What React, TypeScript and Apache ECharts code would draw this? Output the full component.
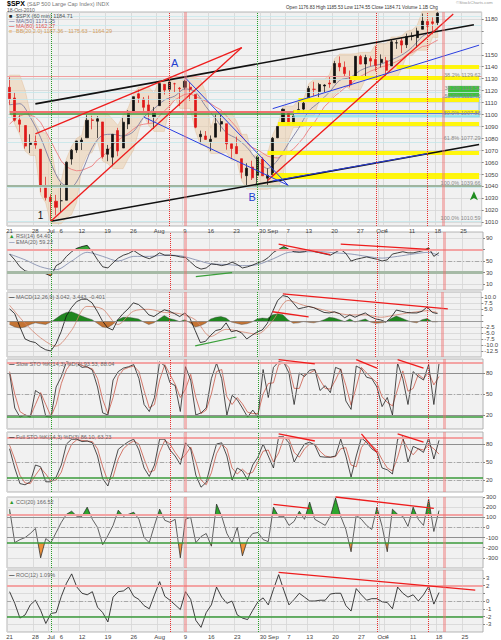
import React, { useEffect, useRef } from "react";
import * as echarts from "echarts";

// ---------- DATA ----------
const days = ["6/21","6/22","6/23","6/24","6/25","6/28","6/29","6/30","7/1","7/2","7/6","7/7","7/8","7/9","7/12","7/13","7/14","7/15","7/16","7/19","7/20","7/21","7/22","7/23","7/26","7/27","7/28","7/29","7/30","8/2","8/3","8/4","8/5","8/6","8/9","8/10","8/11","8/12","8/13","8/16","8/17","8/18","8/19","8/20","8/23","8/24","8/25","8/26","8/27","8/30","8/31","9/1","9/2","9/3","9/7","9/8","9/9","9/10","9/13","9/14","9/15","9/16","9/17","9/20","9/21","9/22","9/23","9/24","9/27","9/28","9/29","9/30","10/1","10/4","10/5","10/6","10/7","10/8","10/11","10/12","10/13","10/14","10/15","10/18","10/19","10/20","10/21","10/22","10/25","10/26","10/27","10/28"];
const tickDays = ["6/21","6/28","7/1","7/6","7/12","7/19","7/26","8/2","8/9","8/16","8/23","8/30","9/1","9/7","9/13","9/20","9/27","10/1","10/4","10/11","10/18","10/25"];
const tickLabels = ["21","28","Jul","6","12","19","26","Aug","9","16","23","30","Sep","7","13","20","27","Oct","4","11","18","25"];

const opens = [1122.8,1113.9,1095.6,1090.9,1075.1,1077.5,1071.1,1040.6,1031.1,1027.7,1028.1,1028.5,1062.9,1070.5,1077.2,1080.7,1095.6,1094.5,1093.9,1066.9,1064.5,1086.7,1072.1,1092.2,1102.9,1117.4,1112.8,1108.1,1098.4,1107.5,1125.3,1121.1,1125.8,1122.1,1122.8,1122.9,1116.9,1081.5,1082.2,1077.5,1081.2,1092.1,1092.4,1075.6,1073.4,1063.2,1049,1056.3,1049.3,1062.9,1046.9,1049.7,1080.7,1093.6,1102.6,1092.4,1101.2,1104.6,1113.4,1121.2,1119.4,1123.9,1126.4,1126.6,1142.8,1139.5,1131.1,1131.7,1148.6,1142.3,1146.8,1146,1143.5,1145,1140.7,1159.8,1161.6,1158.4,1165.3,1164.3,1171.3,1177.8,1177.5,1176.8];
const highs = [1131.2,1118.5,1099.6,1090.9,1083.6,1082.6,1071.1,1048.1,1033.6,1033,1042.5,1060.9,1071.3,1078.2,1080.8,1099.5,1099.1,1098.7,1093.9,1074.7,1083.9,1089,1097.5,1103.7,1115,1121,1114.7,1115.9,1106.4,1127.3,1125.4,1128.8,1126.6,1123.1,1129.2,1127.2,1116.9,1086.7,1086.3,1082.6,1100.1,1099.8,1092.4,1075.6,1081.6,1063.2,1059.4,1061.5,1065.2,1064.4,1055.1,1081.3,1090.1,1105.1,1102.6,1103.3,1110.3,1110.9,1123.9,1127.4,1126.5,1125.4,1131.5,1144.9,1148.6,1144.4,1136.8,1148.9,1149.9,1150,1148.6,1157.2,1150.3,1148.2,1162.8,1162.3,1163.9,1167.7,1168.7,1172.6,1184.4,1178.9,1181.2,1185.5];
const lows = [1108.2,1094.2,1085.3,1071.6,1067.9,1071.5,1035.2,1028.3,1010.9,1015.9,1018.4,1028.5,1058.2,1068.1,1070.5,1080.7,1087.7,1080.5,1063.3,1061.1,1056.9,1065.3,1072.1,1087.9,1101.3,1109.8,1103.1,1092.8,1088,1107.5,1116.8,1119.5,1118.8,1107.2,1120.9,1111.6,1088.6,1076.7,1079,1069.5,1081.2,1085.8,1070.7,1063.9,1067.1,1046.7,1039.8,1045.4,1039.7,1048.8,1040.9,1049.7,1080.4,1093.6,1091.2,1092.4,1101.2,1101.2,1113.4,1115.6,1114.6,1118.9,1122.4,1126.6,1136.2,1131.6,1122.8,1131.7,1142,1132.1,1140.3,1136.1,1139.4,1131.9,1140.7,1154.9,1151.4,1155.6,1162,1155.7,1171.3,1166.7,1167.1,1174.6];
const closes = [1113.2,1095.3,1092,1073.7,1076.8,1074.6,1041.2,1030.7,1027.4,1022.6,1028.1,1060.3,1070.3,1078,1078.8,1095.3,1095.2,1096.5,1064.9,1071.3,1083.5,1069.6,1093.7,1102.7,1115,1113.8,1106.1,1101.5,1101.6,1125.9,1120.5,1127.2,1125.8,1121.6,1127.8,1121.1,1089.5,1083.6,1079.3,1079.4,1092.5,1094.2,1075.6,1071.7,1067.4,1051.9,1055.3,1047.2,1064.6,1048.9,1049.3,1080.3,1090.1,1104.5,1091.8,1098.9,1104.2,1109.6,1121.9,1121.1,1125.1,1124.7,1125.6,1142.7,1139.8,1134.3,1124.8,1148.7,1142.2,1147.7,1144.7,1141.2,1146.2,1137,1160.8,1160,1158.1,1165.2,1165.3,1169.8,1178.1,1173.8,1176.2,1184.7];

const ma50 = [[0,1108.2],[2,1109.1],[4,1097.8],[6,1081],[8,1059.5],[10,1043],[12,1040],[14,1052.2],[16,1072.3],[18,1082.7],[20,1083.6],[22,1082.1],[24,1085.8],[26,1097.8],[28,1104.9],[30,1112.1],[32,1115.5],[34,1121.5],[36,1119.1],[38,1107],[40,1096.2],[42,1084.9],[44,1080],[46,1072.7],[48,1062],[50,1055],[52,1062.2],[54,1075.6],[56,1088.4],[58,1103],[60,1110.4],[62,1118.9],[64,1128.7],[66,1131],[68,1136.9],[70,1140.3],[72,1142.2],[74,1145.7],[76,1149.7],[78,1156.1],[80,1165.3],[82,1169.5],[83,1171.3]];
const ma80 = [1092.1,1096.1,1098.9,1100.5,1099.6,1098,1093.6,1086,1078,1069.5,1061.4,1056.6,1054.3,1053.1,1053.5,1055.2,1057.1,1062.1,1065.2,1069.2,1074.7,1078.5,1081.6,1084.5,1087.9,1091,1092,1092.6,1093.1,1098.6,1103.1,1107.1,1112.2,1114.7,1117,1117.5,1115.3,1113.3,1111.3,1109.2,1106.2,1103.8,1099.1,1094.2,1089.3,1082.4,1076.4,1072.6,1070.8,1068.1,1065.3,1064.2,1063.8,1066.5,1068.3,1071.2,1075.9,1080.9,1087.6,1092.8,1099.7,1106.6,1110.7,1115.5,1118.7,1122.5,1124.9,1128.9,1131.9,1134.2,1136.4,1137.9,1139.8,1140.8,1142.5,1144.3,1146.5,1150.2,1151.7,1154.2,1156.9,1157.5,1160,1162.3];
const bbUpper = [1133,1133,1133,1120.5,1101.6,1092.9,1085.6,1084.6,1073.1,1050.1,1044.5,1062.9,1073.3,1080.2,1082.8,1101.5,1101.5,1101.5,1101.1,1100.7,1095.9,1091,1099.5,1105.7,1117,1123,1123,1123,1117.9,1129.3,1129.3,1130.8,1130.8,1130.8,1131.2,1131.2,1131.2,1129.2,1118.9,1088.7,1102.1,1102.1,1102.1,1101.8,1094.4,1083.6,1083.6,1065.2,1067.2,1067.2,1067.2,1083.3,1092.1,1107.1,1107.1,1107.1,1112.3,1112.9,1125.9,1129.4,1129.4,1129.4,1133.5,1146.9,1150.6,1150.6,1150.6,1150.9,1151.9,1152,1152,1159.2,1159.2,1159.2,1164.8,1164.8,1165.9,1169.7,1170.7,1174.6,1186.4,1186.4,1186.4,1187.4];
const bbLower = [1103,1092,1083,1069.6,1065.9,1065.9,1033.2,1026.3,1008.9,1008.9,1008.9,1013.9,1016.4,1026.5,1056.2,1066.1,1068.5,1078.5,1061.3,1059.1,1054.9,1054.9,1054.9,1063.3,1070.1,1085.9,1099.3,1090.8,1086,1086,1086,1105.5,1114.8,1105.2,1105.2,1105.2,1086.6,1074.7,1074.7,1067.5,1067.5,1067.5,1068.7,1061.9,1061.9,1044.7,1037.8,1037.8,1037.7,1037.7,1037.7,1038.9,1038.9,1047.7,1078.4,1089.2,1089.2,1090.4,1099.2,1099.2,1111.4,1112.6,1112.6,1116.9,1120.4,1124.6,1120.8,1120.8,1120.8,1129.7,1130.1,1130.1,1134.1,1129.9,1129.9,1129.9,1138.7,1149.4,1149.4,1153.6,1153.7,1153.7,1164.7,1164.3];

const rsi = [62,52,40,33,31,30,31,28,24,42,47,58,66,72,75,77,66,52,40,38,47,55,60,63,68,62,57,54,58,64,60,60,59,57,56,48,40,36,38,45,44,42,44,48,44,38,40,43,47,50,56,65,70,75,70,66,65,66,70,66,64,62,60,65,70,63,50,53,55,57,55,53,50,52,62,64,66,64,64,66,68,73,58,64.4];
const rsiEma = [[0,62],[3,52],[6,40],[9,35],[12,50],[15,65],[18,58],[21,50],[24,58],[27,58],[30,60],[33,59],[36,52],[39,45],[42,44],[45,42],[48,44],[51,54],[54,65],[57,66],[60,66],[63,64],[66,62],[69,58],[72,55],[75,58],[78,62],[81,65],[83,59.2]];
const macd = [5,3,-2.5,-7.5,-8.5,-9,-10.8,-12,-12.5,-9.5,-4.5,2,5.5,8,9,9,7.5,4,0,-2.8,-3.8,0.5,3,5,7.5,6.8,5,2.5,1.8,3.3,4.6,4,3,1.8,3.3,1,-4,-9,-8.5,-6,-4,-3.5,-0.8,-4.5,-4,-5,-7.5,-6,-4.6,-3.8,-1,3.8,8.5,10.5,10,7.5,5,5.5,6,5.5,4.5,3.5,3.3,3.8,3,1.3,2.5,1.5,2.5,3.3,1.8,0.8,0.4,-0.5,1.5,4.5,4,3.5,3.3,3.3,4,5.8,3.5,3.04];
const macdSignal = [[0,6.5],[3,-1],[6,-7],[9,-10.5],[12,-4],[15,6],[18,5],[21,-1.5],[24,4],[27,4.8],[30,3.5],[33,3],[36,0.5],[39,-6.5],[42,-3.5],[45,-4.5],[48,-5.5],[51,0],[54,8.5],[57,6.5],[60,5],[63,3.5],[66,2.5],[69,2.5],[72,1.5],[75,2.5],[78,3.5],[81,4.2],[83,3.44]];
const macdHist = [-1.5,-2.5,-3,-2.5,-1.5,-0.8,-1.2,-1.5,-0.5,1,2.5,3.5,3.8,3,2,1.2,0.5,-1,-2.5,-2.8,-1.5,0.5,1.5,1.5,1.2,0.8,-0.5,-1.5,-0.8,0.8,2.2,1,0.5,-0.3,0.5,-0.8,-2.5,-2,-1,0.8,1.5,1.8,1.2,-0.5,-1,-1.5,-1.2,-0.5,0.8,1.2,1,2.5,3,2.5,0.5,-1,-0.8,-0.3,-0.6,-0.8,-0.3,0.5,1.5,1.2,0.5,-0.3,0.8,-0.5,0.2,0.8,-0.5,-1,-0.8,-0.5,1,2,1.2,0.3,-0.5,-0.8,0.5,1,-0.4,-0.4];
const slowK = [80,30,17,20,17,55,50,18,17,60,75,96,94,94,88,89,84,60,23,20,70,82,87,89,92,72,35,25,45,96,90,66,62,25,89,70,20,23,30,72,94,72,20,48,42,30,17,27,17,85,45,88,96,95,80,35,80,75,84,85,55,62,52,88,85,40,28,90,86,74,72,60,32,45,20,94,72,35,82,75,70,92,35,93.5];
const slowD = [82,50,25,20,18,35,52,35,18,35,65,85,95,94,91,88,86,72,42,22,45,75,85,88,90,82,55,30,35,70,92,78,64,45,57,78,45,22,27,50,82,85,46,35,45,36,24,22,22,50,65,66,92,95,88,58,58,78,80,84,70,58,57,70,86,62,34,60,88,80,73,66,46,38,33,57,83,54,58,78,72,81,63,75];
const fullK = [72,40,14,12,17,45,42,17,17,25,45,80,88,88,84,85,82,60,22,10,40,71,78,84,88,70,40,26,45,88,88,70,60,46,82,72,28,8,16,50,80,82,60,20,40,35,20,45,58,80,60,40,92,92,82,50,66,80,83,78,59,58,58,60,88,60,25,60,90,83,72,66,40,37,30,88,92,50,76,72,66,90,55,86.1];
const fullD = [78,55,28,15,14,28,40,30,18,20,33,60,80,87,86,85,84,72,42,18,25,55,72,80,85,80,55,33,36,66,86,80,66,54,62,75,50,20,12,32,64,80,72,40,30,38,30,33,50,68,70,50,65,90,88,66,58,72,80,80,68,60,58,59,72,74,45,42,74,86,78,70,54,40,35,58,88,72,62,72,70,78,72,63.2];
const cci = [180,-150,-120,-100,-60,-10,-300,-110,-150,-50,50,130,160,110,110,200,80,0,-170,-80,20,170,110,130,150,80,-100,-150,20,180,70,50,80,-300,80,100,-150,-90,-60,-185,230,110,-60,-150,0,-280,-120,-60,-50,-120,-140,200,110,110,20,60,160,80,250,80,50,20,110,290,110,-20,-240,120,80,20,-20,200,10,-240,180,130,110,10,200,80,20,280,-40,166.5];
const roc = [1.2,-0.3,-2.2,-1.8,-0.5,0.1,-1.2,-2.9,-1.6,-1.5,0.6,2.3,3.5,1.8,1,0.8,1.2,-0.8,-1.5,-2.7,0.5,1.2,1.3,1.8,0.6,0.2,-0.6,-1,0.8,2.5,0.6,0.1,-0.5,-1.1,1.2,0.2,-2.5,-3.4,-1.5,-0.5,1.8,0.5,-0.3,0,-1.8,-2.2,-2.4,-1.2,-0.1,0.4,-0.5,1.5,3.4,1.4,-0.5,0.2,1,0.5,0,0,0.1,0.1,0.9,1,1,-0.6,-1.3,1.6,0.8,0.1,0.3,0.3,-0.1,-0.2,-1,1.8,1,0.5,0.8,0,0.8,1.9,-0.4,1.09];

// axis tick values per panel, and the subset that stays visible (others are hidden behind value boxes)
const priceTicks = [1010,1020,1030,1040,1050,1060,1070,1080,1090,1100,1110,1120,1130,1140,1150,1160,1170,1180];
const priceLabelTicks = [1010,1020,1030,1040,1050,1060,1070,1080,1090,1100,1110,1120,1130,1140,1150,1180];
const rsiTicks = [10,30,50,70,90];
const rsiLabelTicks = [10,30,50,90];
const macdTicks = [-12.5,-10,-7.5,-5,-2.5,0,2.5,5,7.5,10];
const macdLabelTicks = [-12.5,-10,-7.5,-5,-2.5,5,7.5,10];
const stoTicks = [20,50,80];
const cciTicks = [-300,-200,-100,0,100,200,300];
const rocTicks = [-3,-2,-1,0,1,2,3];
const rocLabelTicks = [-3,-2,-1,0,2,3];

const eventDays = ["7/1","8/4","8/9","8/27","9/30","10/14","10/19"];
const eventKinds = ["green","red","pink","green","red","red","pink"];
const fibLevels = [1129.62,1118.52,1112.43,1097.88,1077.29,1039.66,1010.59];
const fibLabels = ["38.2% 1129.62","38.2% 1118.52","50.0% 1112.43","50.0% 1097.88","61.8% 1077.29","100.0% 1039.66","100.0% 1010.59"];
const yellowStarts = ["10/6","9/23","9/9","9/8","9/2","8/31","9/1"];
const yellowLevels = [1140,1130.5,1112.7,1102.3,1092.8,1068.3,1049.3];
const mainTrends: any[] = [
  ["6/28",1109,"10/27",1175,"black"],
  ["7/1",1011,"10/28",1075,"black"],
  ["6/28",1084,"8/24",1156,"red"],
  ["7/1",1011,"8/24",1156,"red"],
  ["8/17",1101,"10/20",1186,"red"],
  ["8/31",1045,"10/21",1184,"red"],
  ["8/9",1131,"9/7",1041,"blue"],
  ["7/28",1098,"9/7",1041,"blue"],
  ["9/1",1105,"10/28",1158,"blue"],
  ["9/1",1044.6,"10/14",1067.4,"blue"],
];
const rsiTrends: any[] = [["9/2",79,"9/17",61,"red"],["9/21",79,"10/14",70,"red"],["8/11",23,"8/20",30,"green"]];
const macdTrends: any[] = [["9/3",11.2,"10/20",5,"red"],["9/1",3.8,"9/13",1.7,"red"],["8/11",-10.4,"8/23",-6.7,"green"]];
const slowTrends: any[] = [["9/2",99,"9/14",93,"red"],["9/24",99,"9/30",87,"red"],["10/6",99,"10/13",87,"red"]];
const fullTrends: any[] = [["9/2",97,"9/14",85,"red"],["9/27",97,"9/30",66,"red"],["10/6",97,"10/13",83,"red"]];
const cciTrends: any[] = [["9/20",300,"10/15",188,"red"],["9/1",228,"9/13",188,"red"]];
const rocTrends: any[] = [["9/2",3.7,"10/27",1.4,"red"]];

// ---------- LAYOUT / STYLE ----------
const FONT = "'Liberation Sans', Arial, 'DejaVu Sans', sans-serif";
const panels = [[12,214],[232,58],[292,65],[359,70],[432,60],[497,71],[570,62]];
const yRanges = [[1007,1185.7],[0,100],[-15,12],[0,100],[0,100],[-400,300],[-4,4]];
const yTicks = [priceTicks,rsiTicks,macdTicks,stoTicks,stoTicks,cciTicks,rocTicks];
const yLabelTicks = [priceLabelTicks,rsiLabelTicks,macdLabelTicks,stoTicks,stoTicks,cciTicks,rocLabelTicks];
const TC: any = { black: "#111", red: "#ee1c1c", blue: "#2a3ee0", green: "#3aa03a" };
const TW: any = { black: 1.6, red: 1.3, blue: 1, green: 1.2 };

function evStyle(k: string) {
  if (k === "green") return { color: "#2aa02a", type: "dotted", width: 1 };
  if (k === "red") return { color: "#e83030", type: "dotted", width: 1 };
  return { color: "rgba(240,110,110,0.45)", type: "solid", width: 3 };
}
const hl = (v: number, color: string, width: number, type: any = "solid") => ({ yAxis: v, lineStyle: { color, width, type } });
const seg = (d1: string, v1: number, d2: string, v2: number, color: string, width = 1.2) => [
  { coord: [d1, v1], lineStyle: { color, width, type: "solid" } },
  { coord: [d2, v2] },
];
const trendItems = (list: any[]) => list.map((t) => seg(t[0], t[1], t[2], t[3], TC[t[4]], TW[t[4]]));
const vbox = (v: number, text: string, border: string, bg = "#f2f2f2") => ({
  yAxis: v,
  lineStyle: { opacity: 0, width: 0 },
  label: { show: true, position: "end", formatter: text, fontSize: 4.5, lineHeight: 5, color: "#222", backgroundColor: bg, borderColor: border, borderWidth: 0.5, padding: [0.5, 0.5, 0, 0.5], distance: 0.5, fontFamily: FONT },
});
const vLines = () => eventDays.map((d, j) => ({ xAxis: d, lineStyle: evStyle(eventKinds[j]) }));
const mk = (data: any[]) => ({ symbol: ["none", "none"], silent: true, animation: false, label: { show: false }, emphasis: { disabled: true }, data });
const DASH = [4, 2, 1, 2];

function buildOption() {
  const tickSet = new Set(tickDays);
  const tickMap: any = {};
  tickDays.forEach((d, i) => (tickMap[d] = tickLabels[i]));

  const grid = panels.map(([top, height]) => ({ left: 7, right: 18, top, height, show: true, backgroundColor: "#f1f1f1", borderColor: "#a3a3a3", borderWidth: 0.8 }));
  const xAxis = panels.map((_, g) => ({
    type: "category", gridIndex: g, data: days, boundaryGap: true,
    axisLine: { show: false }, axisTick: { show: false },
    axisLabel: { show: g === 0 || g === 6, interval: (i: number, v: string) => tickSet.has(v), formatter: (v: string) => tickMap[v] || "", fontSize: 6, color: "#444", margin: 1.5, fontFamily: FONT },
    splitLine: { show: true, interval: (i: number, v: string) => tickSet.has(v), lineStyle: { color: "#d6d6d6", width: 0.8 } },
  }));
  const yAxis = panels.map((_, g) => ({
    type: "value", gridIndex: g, position: "right", min: yRanges[g][0], max: yRanges[g][1],
    axisLine: { show: false },
    axisTick: { show: true, length: 2, lineStyle: { color: "#888" }, customValues: yTicks[g] },
    axisLabel: { fontSize: 6, color: "#444", margin: 3, customValues: yLabelTicks[g], fontFamily: FONT, formatter: (v: number) => (g === 2 ? v.toFixed(1) : String(v)) },
    splitLine: { show: true, lineStyle: { color: "#d6d6d6", width: 0.8 } },
  }));

  const series: any[] = [];
  const add = (s: any) => { series.push({ animation: false, ...s }); return series.length - 1; };
  const line = (g: number, data: any[], color: string, width: number, extra: any = {}) =>
    add({ type: "line", xAxisIndex: g, yAxisIndex: g, data, symbol: "none", silent: true, lineStyle: { color, width }, z: 3, ...extra });
  const area = (g: number, data: any[], origin: number) =>
    add({ type: "line", xAxisIndex: g, yAxisIndex: g, data, symbol: "none", silent: true, lineStyle: { width: 0, opacity: 0 }, areaStyle: { origin, opacity: 1 }, z: 2 });

  // ---- main panel ----
  add({
    type: "custom", xAxisIndex: 0, yAxisIndex: 0, z: 1, silent: true,
    data: bbUpper.map((u, i) => [i, u, bbLower[i]]),
    encode: { x: 0, y: [1, 2] },
    renderItem: (params: any, api: any) => {
      if (params.dataIndex !== 0) return null;
      const top = bbUpper.map((u, i) => api.coord([i, u]));
      const bot = bbLower.map((l, i) => api.coord([i, l])).reverse();
      return { type: "polygon", shape: { points: top.concat(bot) }, style: { fill: "rgba(236,204,166,0.5)", stroke: "rgba(220,178,136,0.7)", lineWidth: 0.5 } };
    },
  });
  line(0, ma80, "#ee7f7f", 0.9);
  line(0, ma50, "#7f7fa3", 0.9, { smooth: 0.3 });

  const mainML: any[] = [
    hl(1132, "#f2a0a0", 1.2),
    seg("6/21", 1102.5, "9/8", 1102.5, "#f07070", 2),
    seg("6/21", 1100.6, "9/8", 1100.6, "#3c9c3c", 1.5),
    hl(1041, "#9fb59f", 2.2),
    hl(1182, "#c6eaee", 0.8),
    hl(1175, "#c6eaee", 0.8),
  ];
  fibLevels.forEach((v, i) => mainML.push({ yAxis: v, lineStyle: { color: "#c3e6ea", width: 0.8, type: "solid" }, label: { show: true, position: "insideEndTop", formatter: fibLabels[i], fontSize: 5.5, color: "#8a8a8a", distance: 1, fontFamily: FONT } }));
  yellowStarts.forEach((d, i) => mainML.push(seg(d, yellowLevels[i], "10/28", yellowLevels[i], "rgba(255,245,0,0.95)", i === yellowStarts.length - 1 ? 6 : 4)));
  mainML.push(seg("9/8", 1100.8, "10/28", 1100.8, "#5a78d8", 1));
  mainML.push(seg("9/8", 1099.3, "10/28", 1099.3, "#7fe3f0", 1.5));
  mainML.push(...trendItems(mainTrends));
  mainML.push(...vLines());
  mainML.push(vbox(1184.4, "1184.71", "#222", "#e4e4e4"));
  mainML.push(vbox(1174.6, "1175.63", "#d9a66a", "#fbefe2"));
  mainML.push(vbox(1169.4, "1171.25", "#8a8aa8", "#eeeef8"));
  mainML.push(vbox(1164.2, "1164.29", "#d9a66a", "#fbefe2"));
  mainML.push(vbox(1159, "1162.27", "#e07070", "#fde8e8"));

  const txt = (coord: any[], text: string, color: string, size: number) => ({
    coord, symbol: "circle", symbolSize: 1, itemStyle: { color: "rgba(0,0,0,0)" },
    label: { show: true, position: "inside", formatter: text, color, fontSize: size, fontFamily: FONT },
  });
  add({
    type: "candlestick", xAxisIndex: 0, yAxisIndex: 0, z: 4, barMaxWidth: 3,
    data: opens.map((o, i) => [o, closes[i], lows[i], highs[i]]),
    itemStyle: { color: "#111", color0: "#e01818", borderColor: "#111", borderColor0: "#e01818", borderWidth: 0.7 },
    markLine: mk(mainML),
    markArea: {
      silent: true,
      data: [
        [{ coord: ["10/20", 1124], itemStyle: { color: "rgba(40,190,40,0.9)" } }, { coord: ["10/28", 1114.6] }],
        [{ coord: ["10/19", 1114.6], itemStyle: { color: "rgba(200,228,250,0.25)", borderColor: "#8ab8dd", borderWidth: 1 } }, { coord: ["10/28", 1098] }],
      ],
    },
    markPoint: {
      silent: true, animation: false,
      data: [
        txt(["8/5", 1143], "A", "#2040d0", 11),
        txt(["8/26", 1031], "B", "#2040d0", 11),
        txt(["6/29", 1016], "1", "#111", 10),
        txt(["10/14", 1192], "C2", "#2040d0", 11),
        { coord: ["10/27", 1036], symbol: "arrow", symbolSize: [6, 9], itemStyle: { color: "#1e8c1e" }, label: { show: false } },
      ],
    },
  });

  // ---- RSI ----
  const rsiHi = area(1, rsi, 70);
  const rsiLo = area(1, rsi, 30);
  line(1, rsiEma, "#7b87aa", 0.8, { smooth: 0.3 });
  line(1, rsi, "#111", 0.8, {
    markLine: mk([
      hl(70, "#f3a3a3", 2), hl(50, "#9a9a9a", 0.8, DASH), hl(30, "#a6baa6", 3),
      ...trendItems(rsiTrends), ...vLines(),
      vbox(68, "64.40", "#3a9a3a", "#e8f4e8"), vbox(58.5, "59.22", "#7b87aa"),
    ]),
  });

  // ---- MACD ----
  const macdA = add({ type: "line", xAxisIndex: 2, yAxisIndex: 2, data: macdHist, symbol: "none", silent: true, lineStyle: { color: "#444", width: 0.4 }, areaStyle: { origin: 0, opacity: 1 }, z: 2 });
  line(2, macdSignal, "#d4846e", 0.8, { smooth: 0.3 });
  line(2, macd, "#111", 0.8, {
    markLine: mk([
      hl(0, "#8a8a8a", 0.8), ...trendItems(macdTrends), ...vLines(),
      vbox(3, "3.042", "#777"), vbox(0.6, "-0.401", "#3a9a3a", "#e8f4e8"),
    ]),
  });

  // ---- Slow STO ----
  line(3, slowD, "#cc5a4a", 0.8);
  line(3, slowK, "#222", 0.8, {
    markLine: mk([
      hl(95, "#f3a3a3", 2), hl(80, "#8f8f8f", 1), hl(50, "#9a9a9a", 0.8, DASH), hl(20, "#8f8f8f", 1), hl(17, "#3a9a3a", 1.5),
      ...trendItems(slowTrends), ...vLines(),
      vbox(97, "93.53", "#777"), vbox(89.5, "88.04", "#777"),
    ]),
  });

  // ---- Full STO ----
  line(4, fullD, "#cc5a4a", 0.8);
  line(4, fullK, "#222", 0.8, {
    markLine: mk([
      hl(90, "#f3a3a3", 2), hl(80, "#8f8f8f", 1), hl(50, "#9a9a9a", 0.8, DASH), hl(24, "#3a9a3a", 1.5), hl(20, "#9a9a9a", 0.8, DASH),
      ...trendItems(fullTrends), ...vLines(),
      vbox(89, "86.10", "#777"), vbox(64, "63.23", "#777"),
    ]),
  });

  // ---- CCI ----
  const cciHi = area(5, cci, 122);
  const cciLo = area(5, cci, -150);
  line(5, cci, "#222", 0.7, {
    markLine: mk([
      hl(122, "#f3a3a3", 2), hl(100, "#8f8f8f", 1), hl(0, "#9a9a9a", 0.8, DASH), hl(-100, "#8f8f8f", 1), hl(-150, "#3a9a3a", 1.5),
      ...trendItems(cciTrends), ...vLines(),
      vbox(155, "166.52", "#3a9a3a", "#dff2df"),
    ]),
  });

  // ---- ROC ----
  line(6, roc, "#111", 0.8, {
    markLine: mk([
      hl(2, "#f3a3a3", 2), hl(0, "#9a9a9a", 0.8, DASH), hl(-2, "#3a9a3a", 1.5),
      ...trendItems(rocTrends), ...vLines(),
      vbox(1.0, "1.09", "#777"),
    ]),
  });

  const T = "rgba(0,0,0,0)";
  const vm = (idx: number, lo: number, mid: number, hi: number, cLow: string, cHigh: string) => ({
    type: "piecewise", show: false, seriesIndex: idx, dimension: 1,
    pieces: [{ gte: lo, lte: mid, color: cLow }, { gt: mid, lte: hi, color: cHigh }],
    outOfRange: { color: T },
  });
  const visualMap = [
    vm(rsiHi, -1000, 70, 1000, T, "#36a336"),
    vm(rsiLo, -1000, 30, 1000, "#e5893a", T),
    vm(macdA, -1000, 0, 1000, "#c47434", "#1f861f"),
    vm(cciHi, -5000, 122, 5000, T, "#2ea52e"),
    vm(cciLo, -5000, -150, 5000, "#f0923a", T),
  ];

  const t = (x: number, y: number, text: string, fill: string, size = 5.5, weight = "normal") => ({
    type: "text", x, y, silent: true, z: 100,
    style: { text, fill, fontSize: size, fontFamily: FONT, fontWeight: weight },
  });
  const legend = (x: number, y: number, mark: string, mcolor: string, text: string, color = "#666") => [
    t(x, y, mark, mcolor, 5.5, "bold"),
    t(x + 7, y, text, color),
  ];
  const graphic = [
    t(7, 0, "$SPX", "#000", 7, "bold"),
    t(27, 0.8, "(S&P 500 Large Cap Index) INDX", "#777", 5.5),
    t(7, 7, "18-Oct-2010", "#555", 5),
    t(286, 4.5, "Open 1176.83 High 1185.53 Low 1174.55 Close 1184.71 Volume 1.1B Chg", "#333", 4.6),
    t(456, 0.5, "\u00A9StockCharts.com", "#999", 4.4),
    ...legend(9, 13, "\u25A0", "#222", "$SPX (60 min) 1184.71", "#555"),
    ...legend(9, 18, "\u2014", "#7f7fa3", "MA(50) 1171.25", "#6a6a90"),
    ...legend(9, 23, "\u2014", "#e05050", "MA(80) 1162.27", "#e05050"),
    ...legend(9, 28, "\u25A0", "#e8c79a", "BB(20,2.0) 1187.36 - 1175.63 - 1164.29", "#d4a060"),
    ...legend(9, 233, "\u25B2", "#2a9a2a", "RSI(14) 64.40"),
    ...legend(9, 238.5, "\u2014", "#7b87aa", "EMA(20) 59.22"),
    ...legend(9, 294, "\u2014", "#222", "MACD(12,26,9) 3.042, 3.443, -0.401"),
    ...legend(9, 361, "\u2014", "#222", "Slow STO %K(14,3) %D(3) 93.53, 88.04"),
    ...legend(9, 434, "\u2014", "#222", "Full STO %K(14,3) %D(3) 86.10, 63.23"),
    ...legend(9, 499, "\u25B2", "#2a9a2a", "CCI(20) 166.52"),
    ...legend(9, 572, "\u2014", "#222", "ROC(12) 1.09%"),
  ];

  return {
    animation: false,
    backgroundColor: "#ffffff",
    textStyle: { fontFamily: FONT },
    grid, xAxis, yAxis, series, visualMap, graphic,
  };
}

export default function App() {
  const ref = useRef<HTMLDivElement>(null);
  useEffect(() => {
    document.body.style.margin = "0";
    const chart = echarts.init(ref.current as HTMLDivElement, null, { renderer: "svg" });
    chart.setOption(buildOption() as any);
    return () => chart.dispose();
  }, []);
  return <div ref={ref} style={{ width: 501, height: 640 }} />;
}
